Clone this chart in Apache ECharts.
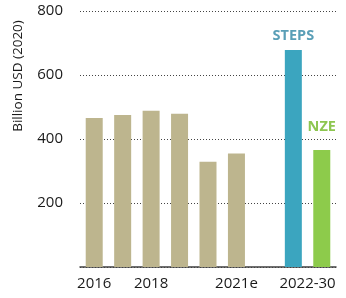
<!DOCTYPE html>
<html><head><meta charset="utf-8">
<script src="https://cdn.jsdelivr.net/npm/echarts@6/dist/echarts.min.js"></script>
<style>html,body{margin:0;padding:0;background:#fff}#c{width:346px;height:298px}</style>
</head><body><div id="c"></div>
<script>
var categories = ['2016','2017','2018','2019','2020','2021e','','STEPS','NZE'];
var values = [466, 475, 488, 479, 329, 355, null, 678, 366];
var barColors = ['#bdb58e','#bdb58e','#bdb58e','#bdb58e','#bdb58e','#bdb58e','#bdb58e','#3ba5bf','#8dcb4b'];
var scenarioLabelColors = {STEPS: '#5a9fb7', NZE: '#8dc650'};
var scenarioLabelGap = {STEPS: 7, NZE: 16};
var xTickPositions = [0.5, 2.5, 5.5, 8];
var xTickLabels = ['2016', '2018', '2021e', '2022-30'];
var yTicks = [200, 400, 600, 800];
var yTitle = 'Billion USD (2020)';

var font = '"Open Sans", sans-serif';
var data = values.map(function (v, i) {
  var d = {value: v === null ? '-' : v, itemStyle: {color: barColors[i]}};
  var c = categories[i];
  if (scenarioLabelColors[c]) {
    d.label = {show: true, position: 'top', distance: scenarioLabelGap[c], formatter: c,
      color: scenarioLabelColors[c], fontWeight: 'bold', fontSize: 14.5, fontFamily: font};
  }
  return d;
});

var chart = echarts.init(document.getElementById('c'), null, {renderer: 'canvas'});
chart.setOption({
  animation: false,
  grid: {left: 80, right: 10, top: 11, bottom: 31},
  xAxis: [{
    type: 'category', data: categories,
    axisLine: {lineStyle: {color: '#404040', width: 1.5}},
    axisTick: {show: false}, axisLabel: {show: false}
  }, {
    type: 'value', min: 0, max: categories.length, interval: 0.5, position: 'bottom',
    axisLine: {show: false}, axisTick: {show: false}, splitLine: {show: false},
    axisLabel: {
      margin: 9, fontSize: 15, color: '#1a1a1a', fontFamily: font,
      formatter: function (v) {
        var k = xTickPositions.indexOf(v);
        return k >= 0 ? xTickLabels[k] : '';
      }
    }
  }],
  yAxis: {
    type: 'value', min: 0, max: 800, interval: 200,
    name: yTitle, nameLocation: 'middle', nameRotate: 90, nameGap: 55,
    nameTextStyle: {fontSize: 13.5, color: '#1a1a1a', fontFamily: font, padding: [0, 0, 0, 126]},
    axisLine: {show: false}, axisTick: {show: false},
    axisLabel: {margin: 17, fontSize: 15, color: '#1a1a1a', fontFamily: font,
      formatter: function (v) { return yTicks.indexOf(v) >= 0 ? String(v) : ''; }},
    splitLine: {lineStyle: {type: [1, 2], color: '#444', width: 1}}
  },
  series: [{
    type: 'bar', xAxisIndex: 0, barWidth: 17, data: data
  }]
});
</script></body></html>
